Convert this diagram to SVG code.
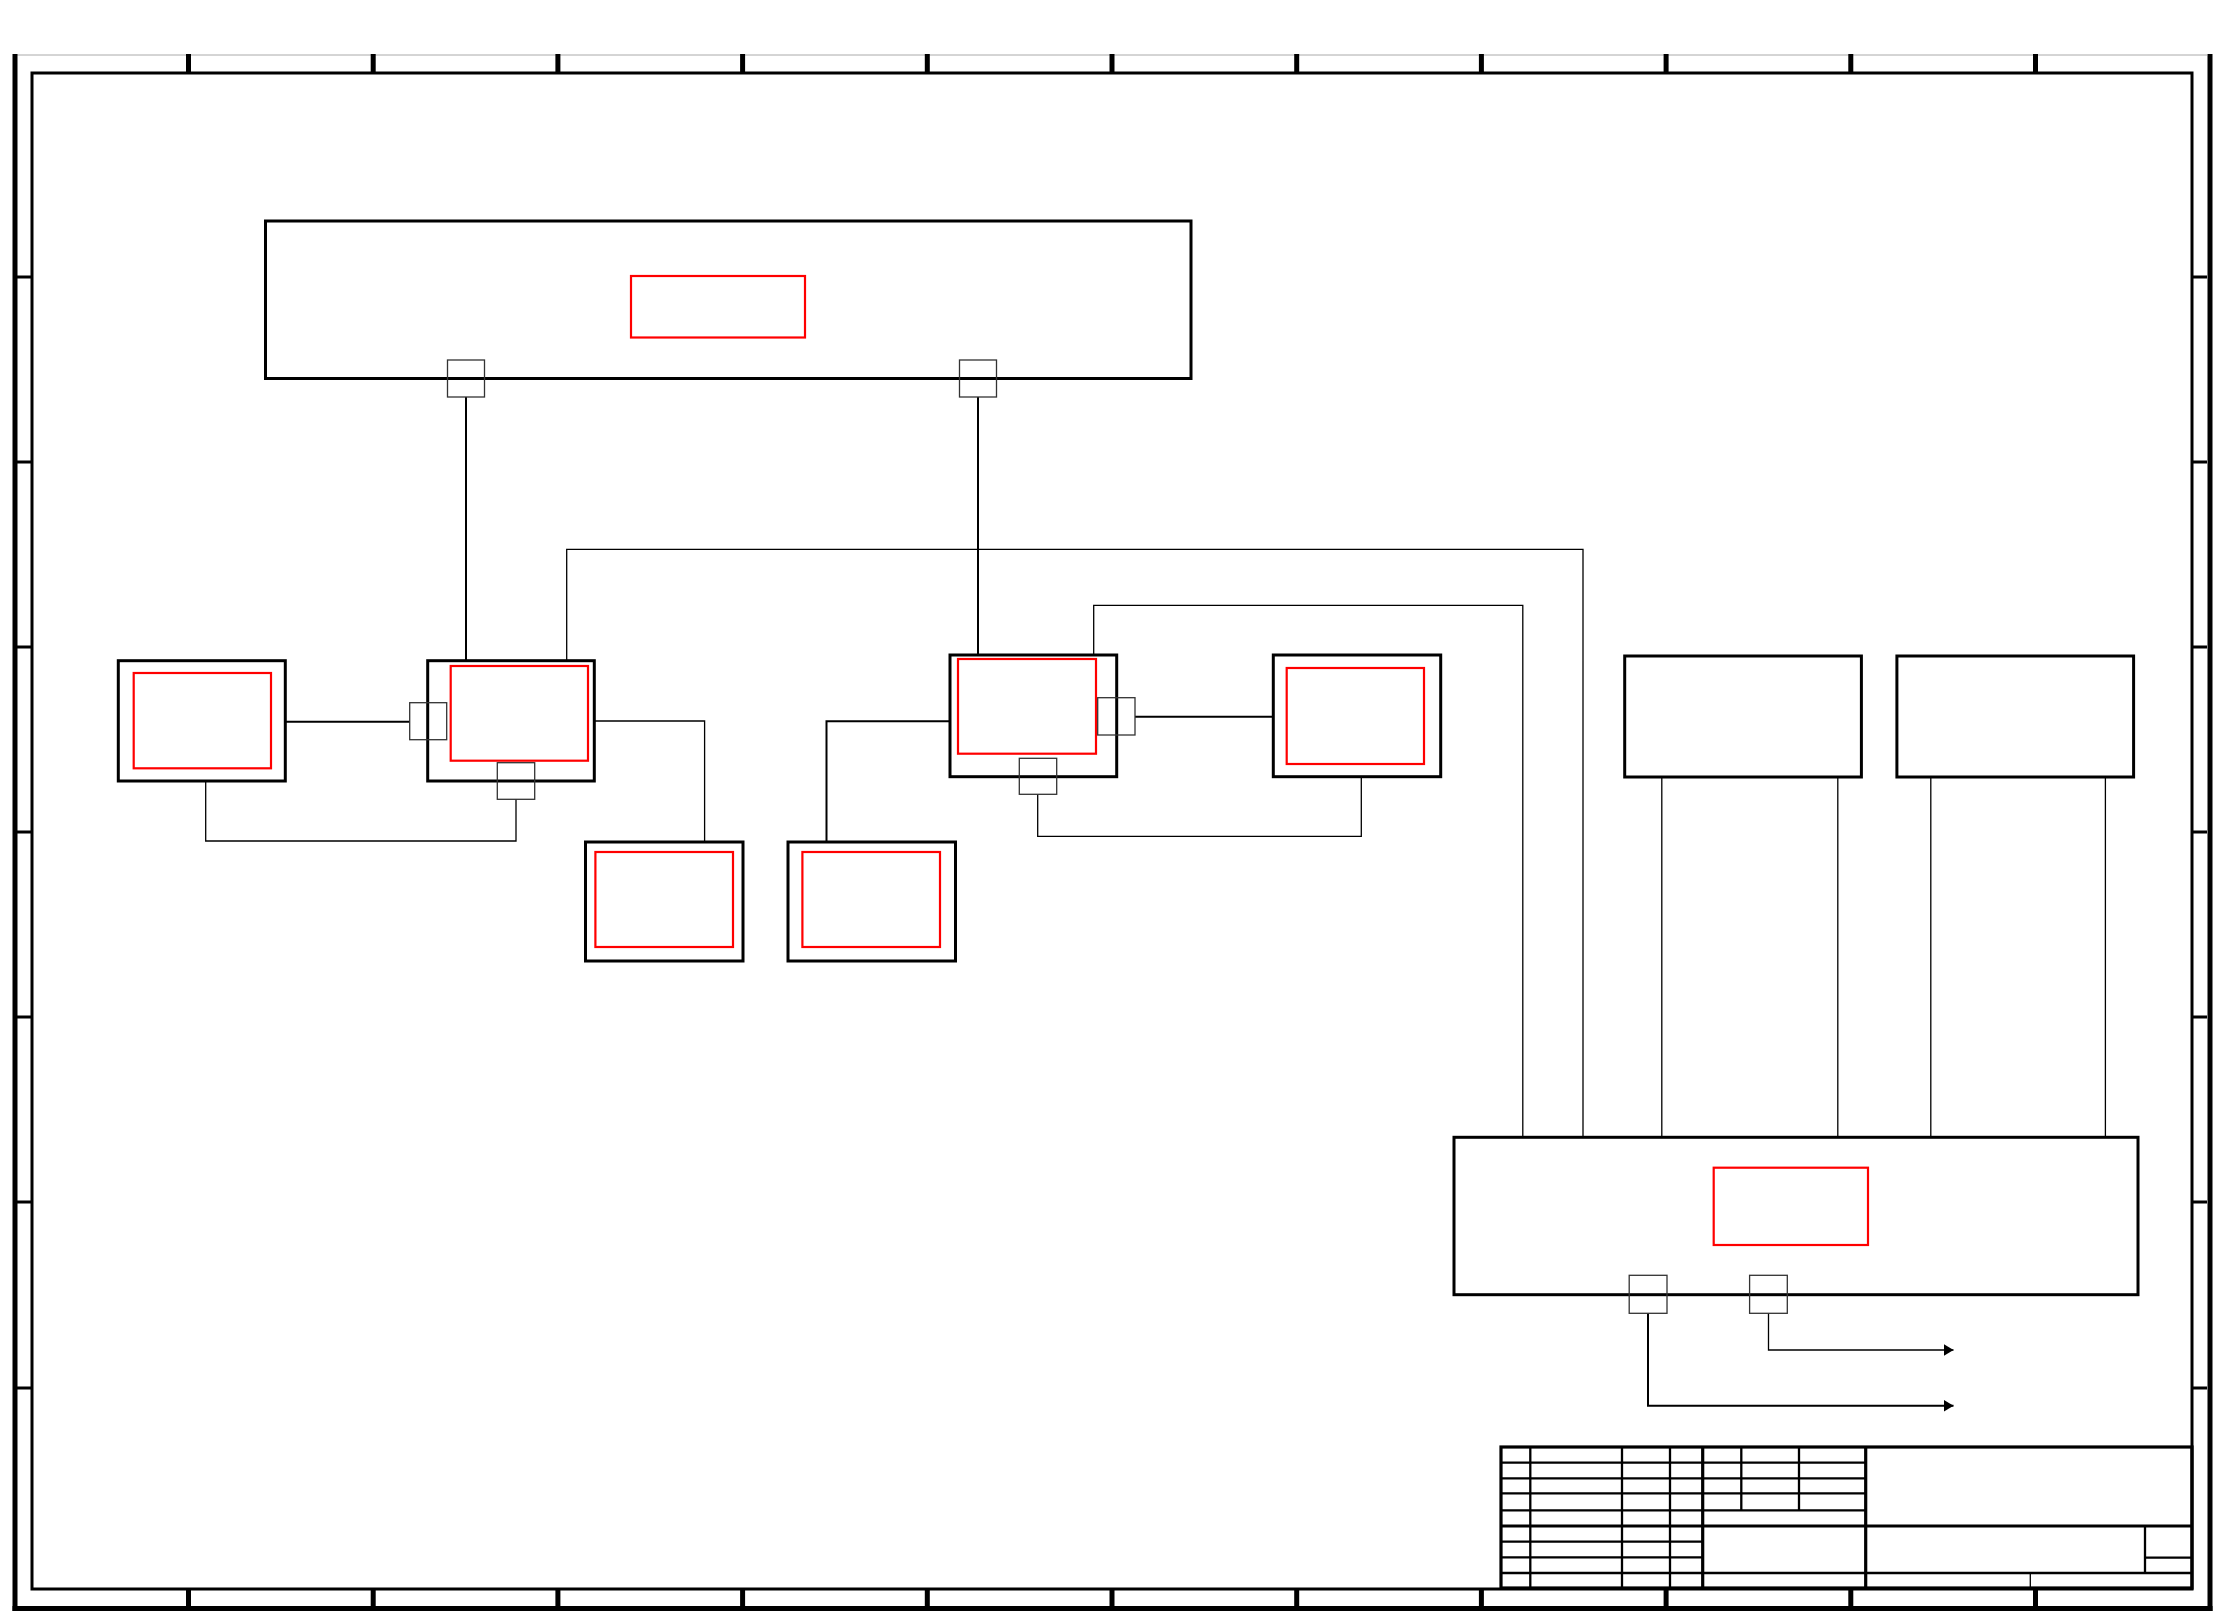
<svg xmlns="http://www.w3.org/2000/svg" width="2223" height="1617" viewBox="0 0 2223 1617">
<style>
.bg{fill:#fff}
.fr{fill:none;stroke:#000}
.box{fill:none;stroke:#000;stroke-width:3}
.red{fill:none;stroke:#f00;stroke-width:2.2}
.port{fill:none;stroke:#333;stroke-width:1.3}
.c{fill:none;stroke:#000;stroke-width:1.3}
.ct{fill:none;stroke:#000;stroke-width:2}
.tb{fill:none;stroke:#000;stroke-width:2.3}
.tbk{fill:none;stroke:#000;stroke-width:3.2}
</style>
<defs>
<marker id="arr" markerUnits="userSpaceOnUse" markerWidth="11" markerHeight="12" refX="10" refY="6" orient="auto">
<path d="M0,0 L10,6 L0,12 Z" fill="#000"/>
</marker>
</defs>
<rect class="bg" x="0" y="0" width="2223" height="1617"/>

<g id="frame">
<line x1="17" y1="55" x2="2207" y2="55" stroke="#aaa" stroke-width="1"/>
<line class="fr" x1="15" y1="54" x2="15" y2="1611" stroke-width="5"/>
<line class="fr" x1="2210" y1="54" x2="2210" y2="1611" stroke-width="5"/>
<line class="fr" x1="12.5" y1="1608.5" x2="2212.5" y2="1608.5" stroke-width="5"/>
<rect class="fr" x="32" y="73" width="2160" height="1516" stroke-width="3"/>
<g class="fr" stroke-width="5">
<path d="M188.5,54V74M373.2,54V74M557.9,54V74M742.6,54V74M927.3,54V74M1112,54V74M1296.7,54V74M1481.4,54V74M1666.1,54V74M1850.8,54V74M2035.5,54V74"/>
<path d="M188.5,1589V1608M373.2,1589V1608M557.9,1589V1608M742.6,1589V1608M927.3,1589V1608M1112,1589V1608M1296.7,1589V1608M1481.4,1589V1608M1666.1,1589V1608M1850.8,1589V1608M2035.5,1589V1608"/>
</g>
<g class="fr" stroke-width="3">
<path d="M17,277H31M17,462H31M17,647H31M17,832H31M17,1017H31M17,1202H31M17,1388H31"/>
<path d="M2193,277H2207M2193,462H2207M2193,647H2207M2193,832H2207M2193,1017H2207M2193,1202H2207M2193,1388H2207"/>
</g>
</g>

<g id="connectors">
<path class="ct" d="M466,397V660.7"/>
<path class="ct" d="M978,397V655"/>
<path class="ct" d="M285.3,721.7H409.7"/>
<path class="c" d="M205.7,781V841H516V799.3"/>
<path class="c" d="M566.7,660.7V549.3H1583V1137"/>
<path class="c" d="M594.3,721H704.6V842"/>
<path class="ct" d="M826.5,842V721.3H950"/>
<path class="ct" d="M1135,716.7H1273.3"/>
<path class="c" d="M1093.7,655V605.4H1522.8V1137"/>
<path class="c" d="M1037.7,794.3V836.3H1361.3V776.7"/>
<path class="c" d="M1661.8,777V1137" stroke-width="1.7"/>
<path class="c" d="M1837.8,777V1137" stroke-width="1.7"/>
<path class="c" d="M1930.8,777V1137" stroke-width="1.7"/>
<path class="c" d="M2105.4,777V1137" stroke-width="1.7"/>
<path class="c" d="M1768.5,1313.3V1350H1953.5" stroke-width="1.6" marker-end="url(#arr)"/>
<path class="ct" d="M1648,1313.3V1405.7H1953.5" marker-end="url(#arr)"/>
</g>

<g id="node-top">
<rect class="box" x="265.5" y="221" width="925.5" height="157.5"/>
<rect class="red" x="631" y="276" width="174" height="61.5"/>
<rect class="port" x="447.5" y="360" width="37" height="37"/>
<rect class="port" x="959.5" y="360" width="37" height="37"/>
</g>

<g id="node-a">
<rect class="box" x="118.3" y="660.7" width="167" height="120.3"/>
<rect class="red" x="133.7" y="673" width="137.3" height="95.3"/>
</g>

<g id="node-b">
<rect class="box" x="427.7" y="660.7" width="166.6" height="120.3"/>
<rect class="red" x="450.7" y="666" width="137.3" height="94.7"/>
<rect class="port" x="409.7" y="702.7" width="37" height="37"/>
<rect class="port" x="497.3" y="762.7" width="37.4" height="36.6"/>
</g>

<g id="node-c">
<rect class="box" x="585.5" y="842" width="157.5" height="119"/>
<rect class="red" x="595.4" y="852" width="137.6" height="95"/>
</g>

<g id="node-d">
<rect class="box" x="788" y="842" width="167.5" height="119"/>
<rect class="red" x="802.4" y="852" width="137.6" height="95"/>
</g>

<g id="node-e">
<rect class="box" x="950" y="655" width="166.7" height="121.7"/>
<rect class="red" x="958" y="659" width="138" height="94.7"/>
<rect class="port" x="1097.7" y="697.7" width="37.3" height="37.3"/>
<rect class="port" x="1019.3" y="758.3" width="37.4" height="36"/>
</g>

<g id="node-f">
<rect class="box" x="1273.3" y="655" width="167.4" height="121.7"/>
<rect class="red" x="1286.7" y="668" width="137.3" height="96"/>
</g>

<g id="node-g">
<rect class="box" x="1624.7" y="656" width="236.7" height="121"/>
</g>

<g id="node-h">
<rect class="box" x="1896.9" y="656" width="236.7" height="121"/>
</g>

<g id="node-bottom">
<rect class="box" x="1454" y="1137.3" width="684" height="157.4"/>
<rect class="red" x="1713.7" y="1167.7" width="154.3" height="77.3"/>
<rect class="port" x="1629.2" y="1275.3" width="37.8" height="38"/>
<rect class="port" x="1749.6" y="1275.3" width="37.7" height="38"/>
</g>

<g id="title-block">
<rect class="tbk" x="1501" y="1447" width="691" height="141"/>
<path class="tb" d="M1501,1462.7H1866M1501,1478.3H1866M1501,1493.3H1866M1501,1510.3H1866M1501,1541.7H1702M1501,1557.3H1702M1501,1573H2192"/>
<path class="tb" d="M1530.3,1447V1588M1622,1447V1588M1670,1447V1588M1741.3,1447V1510.3M1799,1447V1510.3"/>
<path class="tbk" d="M1702.7,1447V1588M1865.7,1447V1588M1501,1526H2192"/>
<path class="tb" d="M2145,1526V1573M2145,1557.7H2192" stroke-width="2.5"/>
<path class="c" d="M2030.3,1573V1588"/>
</g>
</svg>
